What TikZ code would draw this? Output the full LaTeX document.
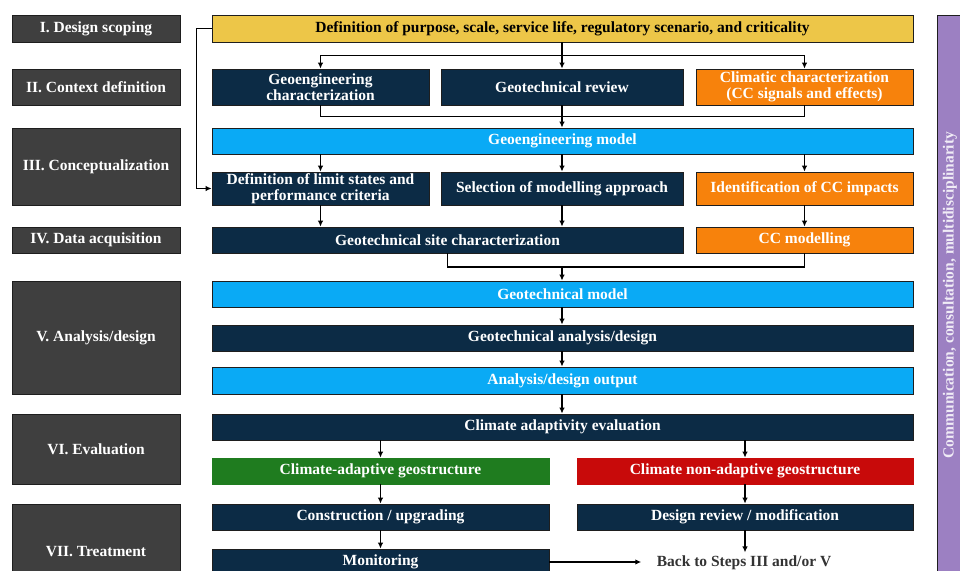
\documentclass[tikz,border=0pt]{standalone}
\usepackage{fontspec}
\setmainfont{Liberation Serif}
\usepackage{tikz}
\usetikzlibrary{calc,arrows.meta,positioning}
\definecolor{stagegray}{HTML}{3F3F3F}
\definecolor{navy}{HTML}{0C2B45}
\definecolor{gold}{HTML}{EDC648}
\definecolor{skyblue}{HTML}{0AAAF5}
\definecolor{ccorange}{HTML}{F7820C}
\definecolor{adaptgreen}{HTML}{1F7C1F}
\definecolor{nonred}{HTML}{C80A0A}
\definecolor{commpurple}{HTML}{9C80C2}
\definecolor{edge}{HTML}{1E1E1E}
\tikzset{
  blk/.style={draw=edge, line width=0.7pt, inner sep=0pt, align=center, text=white,
    font=\bfseries\fontsize{15.5}{16.5}\selectfont},
  arr/.style={-{Latex[length=6pt,width=5.5pt]}, line width=1.3pt, color=black},
  ln/.style={line width=1.3pt, color=black},
}

\begin{document}
\begin{tikzpicture}[x=1pt,y=-1pt]
\useasboundingbox (0,0) rectangle (960,570);
\clip (0,0) rectangle (960,570);
\foreach \nm/\yc/\h/\txt in {
  stI/28.5/27/{I. Design scoping},stII/87/36/{II. Context definition},
  stIII/166.5/77/{III. Conceptualization},stIV/240/26/{IV. Data acquisition},
  stV/337.5/113/{V. Analysis/design},stVI/449/70/{VI. Evaluation},
  stVII/552/96/{VII. Treatment}}{
  \node[blk, fill=stagegray, minimum width=168, minimum height=\h] (\nm) at (96,\yc) {\txt};
}
\node[blk, fill=gold, text=black, minimum width=701, minimum height=27] (purpose) at (562.5,28.5)
  {Definition of purpose, scale, service life, regulatory scenario, and criticality};
\node[blk, fill=navy, minimum width=217, minimum height=36] (geochar) at (320.5,87) {Geoengineering\\characterization};
\node[blk, fill=navy, minimum width=242, minimum height=36] (review) at (562,87) {Geotechnical review};
\node[blk, fill=ccorange, minimum width=217, minimum height=36] (climchar) at (804.5,87) {Climatic characterization\\(CC signals and effects)};
\node[blk, fill=skyblue, minimum width=701, minimum height=26] (geomodel) at (562.5,141) {Geoengineering model};
\node[blk, fill=navy, minimum width=217, minimum height=33] (limit) at (320.5,188.5) {Definition of limit states and\\performance criteria};
\node[blk, fill=navy, minimum width=242, minimum height=33] (modelling) at (562,188.5) {Selection of modelling approach};
\node[blk, fill=ccorange, minimum width=217, minimum height=33] (impacts) at (804.5,188.5) {Identification of CC impacts};
\node[blk, fill=navy, minimum width=471, minimum height=26] (sitechar) at (447.5,240) {Geotechnical site characterization};
\node[blk, fill=ccorange, minimum width=217, minimum height=26] (ccmod) at (804.5,240) {CC modelling};
\node[blk, fill=skyblue, minimum width=701, minimum height=26] (gmodel) at (562.5,294) {Geotechnical model};
\node[blk, fill=navy, minimum width=701, minimum height=26] (analysis) at (562.5,338) {Geotechnical analysis/design};
\node[blk, fill=skyblue, minimum width=701, minimum height=27] (output) at (562.5,380.5) {Analysis/design output};
\node[blk, fill=navy, minimum width=701, minimum height=26] (adapt) at (562.5,427) {Climate adaptivity evaluation};
\node[blk, fill=adaptgreen, draw=adaptgreen, minimum width=337, minimum height=26] (green) at (380.5,471) {Climate-adaptive geostructure};
\node[blk, fill=nonred, draw=nonred, minimum width=336, minimum height=26] (red) at (745,471) {Climate non-adaptive geostructure};
\node[blk, fill=navy, minimum width=337, minimum height=26] (constr) at (380.5,517) {Construction / upgrading};
\node[blk, fill=navy, minimum width=336, minimum height=26] (redesign) at (745,517) {Design review / modification};
\node[blk, fill=navy, minimum width=337, minimum height=26] (monitor) at (380.5,562) {Monitoring};
\node[font=\bfseries\fontsize{15.5}{16.5}\selectfont, text=black!80] (back) at (744,563) {Back to Steps III and/or V};
\node[fill=commpurple, draw=edge, line width=0.7pt, minimum width=43, minimum height=585, anchor=north west] (comm) at (937,15) {};
\node[rotate=90, text=white!85!commpurple, font=\bfseries\fontsize{15.5}{16.5}\selectfont] (commtxt) at (950,295)
  {Communication, consultation, multidisciplinarity};

\coordinate (split1) at ($(purpose.south -| review.north)!0.5!(review.north)$);
\coordinate (merge1) at ($(review.south)!0.5!(review.south |- geomodel.north)$);
\coordinate (merge2) at (562,267);

\draw[arr] (purpose.west) -- ++(-15,0) |- (limit.west);
\draw[arr] (purpose.south -| review.north) -- (review.north);
\draw[arr] (split1) -| (geochar.north);
\draw[arr] (split1) -| (climchar.north);
\draw[ln] (geochar.south) |- (merge1);
\draw[ln] (climchar.south) |- (merge1);
\draw[arr] (review.south) -- (review.south |- geomodel.north);
\foreach \n in {limit,modelling,impacts}
  \draw[arr] (geomodel.south -| \n.north) -- (\n.north);
\draw[arr] (limit.south) -- (limit.south |- sitechar.north);
\draw[arr] (modelling.south) -- (modelling.south |- sitechar.north);
\draw[arr] (impacts.south) -- (ccmod.north);
\draw[ln] (sitechar.south) |- (merge2);
\draw[ln] (ccmod.south) |- (merge2);
\draw[arr] (merge2) -- (merge2 |- gmodel.north);
\draw[arr] (gmodel.south -| modelling.south) -- (analysis.north -| modelling.south);
\draw[arr] (analysis.south -| modelling.south) -- (output.north -| modelling.south);
\draw[arr] (output.south -| modelling.south) -- (adapt.north -| modelling.south);
\draw[arr] (adapt.south -| green.north) -- (green.north);
\draw[arr] (adapt.south -| red.north) -- (red.north);
\draw[arr] (green.south) -- (constr.north);
\draw[arr] (constr.south) -- (monitor.north);
\draw[arr] (red.south) -- (redesign.north);
\draw[arr] (redesign.south) -- (redesign.south |- back.north);
\draw[arr, shorten >=12pt] (monitor.east) -- (monitor.east -| back.west);
\end{tikzpicture}
\end{document}
